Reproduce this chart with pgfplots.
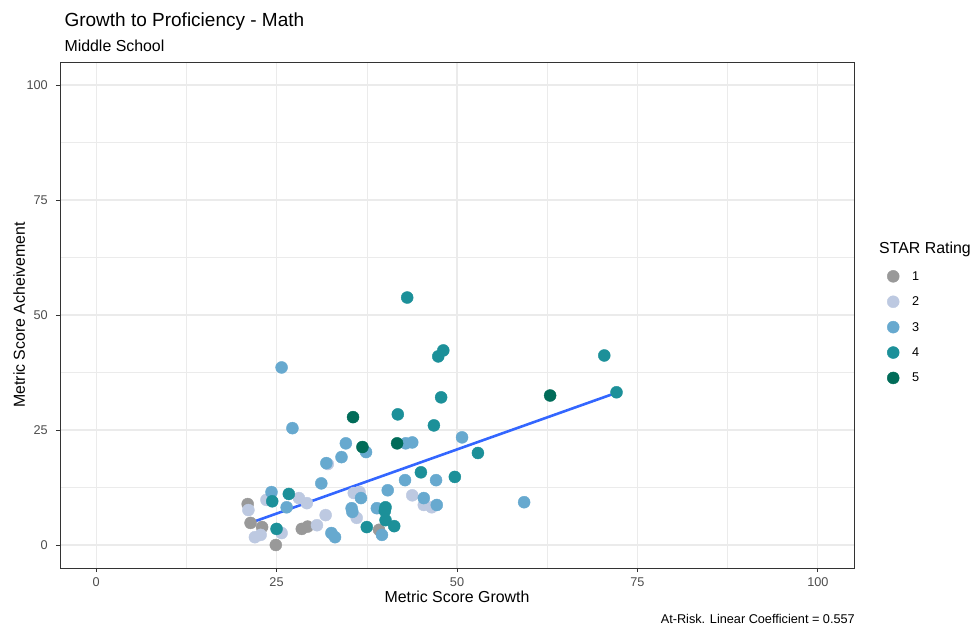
\documentclass[border=0pt]{standalone}
\usepackage{pgfplots}
\pgfplotsset{compat=1.18}
\usepackage{fontspec}
\setmainfont{Liberation Sans}

\definecolor{rate1}{HTML}{999999}
\definecolor{rate2}{HTML}{BDC9E1}
\definecolor{rate3}{HTML}{67A9CF}
\definecolor{rate4}{HTML}{1C9099}
\definecolor{rate5}{HTML}{016C59}
\definecolor{gridc}{HTML}{EBEBEB}
\definecolor{framec}{HTML}{333333}
\definecolor{tickc}{HTML}{4D4D4D}
\definecolor{fitc}{HTML}{3366FF}

\begin{document}
\begin{tikzpicture}
\path[use as bounding box] (-60pt,-62pt) rectangle (914pt,568pt);
\begin{axis}[
    scale only axis,
    width=794pt, height=506pt,
    xmin=-5, xmax=105, ymin=-5, ymax=105,
    xtick={0,25,50,75,100}, ytick={0,25,50,75,100},
    minor xtick={12.5,37.5,62.5,87.5},
    minor ytick={12.5,37.5,62.5,87.5},
    grid=both,
    major grid style={color=gridc, line width=1.1pt},
    minor grid style={color=gridc, line width=0.55pt},
    axis line style={color=framec, line width=0.9pt},
    tick style={color=framec, line width=0.9pt},
    major tick length=4pt, minor tick length=0pt,
    tick align=outside,
    xtick pos=bottom, ytick pos=left,
    /pgf/number format/assume math mode=true,
    ticklabel style={font=\fontsize{12.7}{15}\selectfont, text=tickc},
    xticklabel style={anchor=base, inner sep=0pt, yshift=-14pt},
    yticklabel style={anchor=east, inner sep=0pt, xshift=-8pt},
    xlabel={Metric Score Growth},
    ylabel={Metric Score Acheivement},
    label style={font=\fontsize{15.9}{18}\selectfont},
    xlabel style={at={(axis description cs:0.5,0)}, anchor=base, yshift=-34pt},
    ylabel style={at={(axis description cs:-0.0441,0.5)}, anchor=base},
    legend style={at={(axis description cs:1.0416,0.476)}, anchor=west,
        draw=none, fill=none, inner sep=0pt, row sep=13.4pt,
        font=\fontsize{12.7}{15}\selectfont,
        nodes={inner sep=0pt, text height=9pt, text depth=0pt},
        /tikz/every odd column/.append style={column sep=13pt}},
    legend cell align=left,
    legend image code/.code={\draw[#1] plot coordinates {(6pt,-0.5pt)};},
    every axis plot/.append style={only marks, mark=*, mark size=6pt},
]
\addplot[color=rate1, mark options={fill=rate1, draw=rate1}] coordinates {
(21.0,8.9) (21.4,4.8) (23.0,3.9) (24.9,0.0) (28.5,3.5) (29.3,4.0) (39.2,3.3)
};
\addlegendentry{1}
\addplot[color=rate2, mark options={fill=rate2, draw=rate2}] coordinates {
(21.1,7.6) (22.0,1.7) (22.8,2.2) (23.6,9.8) (25.7,2.6) (28.1,10.2) (29.2,9.1)
(30.6,4.3) (31.8,6.5) (32.1,17.6) (35.7,11.3) (36.5,11.5) (36.1,5.9)
(43.8,10.8) (45.4,8.7) (46.5,8.2)
};
\addlegendentry{2}
\addplot[color=rate3, mark options={fill=rate3, draw=rate3}] coordinates {
(25.7,38.6) (27.2,25.4) (24.3,11.5) (26.4,8.2) (31.2,13.4) (31.9,17.8)
(34.0,19.1) (34.6,22.1) (37.4,20.2) (32.6,2.6) (33.1,1.7) (35.4,8.0)
(35.5,7.2) (36.7,10.2) (39.6,2.2) (38.9,8.0) (40.4,11.9) (42.8,14.1)
(42.9,22.1) (43.8,22.3) (45.4,10.2) (47.1,14.1) (47.2,8.7) (50.7,23.4)
(59.3,9.3)
};
\addlegendentry{3}
\addplot[color=rate4, mark options={fill=rate4, draw=rate4}] coordinates {
(43.1,53.8) (47.4,41.0) (48.1,42.3) (47.8,32.1) (41.8,28.4) (46.8,26.0)
(70.4,41.2) (72.1,33.2) (52.9,20.0) (49.7,14.8) (45.0,15.8) (40.1,8.2)
(40.0,7.4) (40.1,5.4) (41.3,4.1) (37.5,3.9) (24.4,9.5) (26.7,11.1) (25.0,3.5)
};
\addlegendentry{4}
\addplot[color=rate5, mark options={fill=rate5, draw=rate5}] coordinates {
(35.6,27.8) (36.9,21.3) (41.7,22.1) (62.9,32.5)
};
\addlegendentry{5}
\addplot[color=fitc, line width=2.6pt, no marks, sharp plot, forget plot] coordinates {
(21.0,4.6) (72.1,33.1)
};
\end{axis}
\node[anchor=base west, font=\fontsize{19}{22}\selectfont] at (1pt,541pt) {Growth to Proficiency - Math};
\node[anchor=base west, font=\fontsize{15.9}{18}\selectfont] at (1pt,516pt) {Middle School};
\node[anchor=west, font=\fontsize{15.9}{18}\selectfont, inner sep=0pt] at (819pt,319pt) {STAR Rating};
\node[anchor=base east, font=\fontsize{12.7}{15}\selectfont, inner sep=0pt] at (795pt,-55pt) {At-Risk. Linear Coefficient = 0.557};
\end{tikzpicture}
\end{document}
